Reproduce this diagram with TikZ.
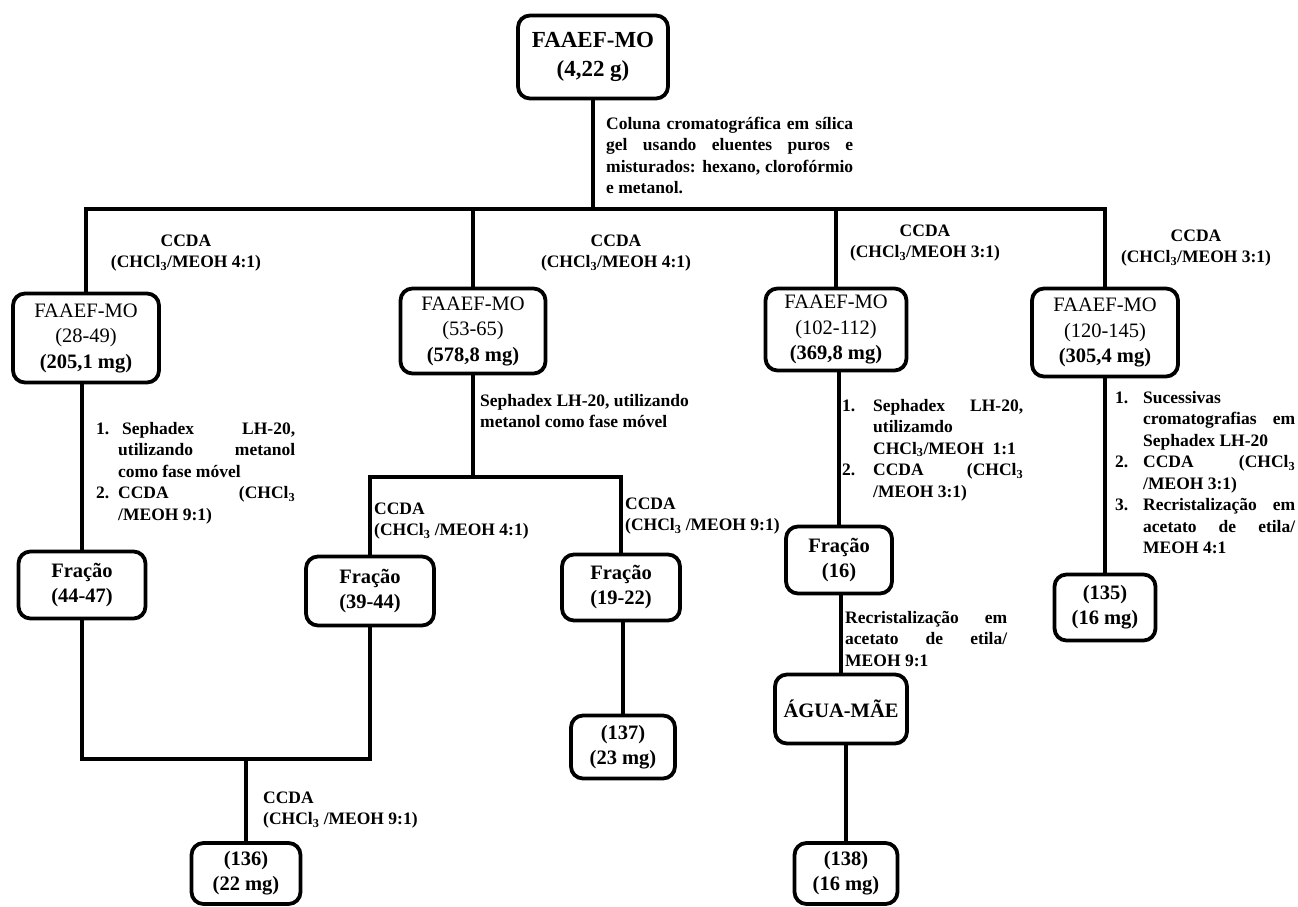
\documentclass[tikz,border=0pt]{standalone}
\usepackage{fontspec}
\setmainfont{Liberation Serif}
\newcommand\jl[2]{\makebox[#1][s]{#2}}
\newcommand\subs[1]{\textsubscript{#1}}
\newcommand\lblfont{\bfseries\fontsize{17.5}{21.5}\selectfont}
\newcommand\topfont{\bfseries\fontsize{23}{29}\selectfont}
\newcommand\boxfont{\fontsize{20.5}{25.5}\selectfont}
\newcommand\boxbfont{\bfseries\fontsize{20.5}{25}\selectfont}
\tikzset{
  box/.style={draw, line width=3.8pt, rounded corners=12pt, align=center, inner sep=0pt},
  conn/.style={line width=3.8pt},
  lbl/.style={inner sep=0pt, font=\lblfont},
}
\begin{document}
\begin{tikzpicture}[x=1pt,y=-1pt]
\useasboundingbox (0,0) rectangle (1298,907);
\fill[white] (0,0) rectangle (1298,907);

% boxes
\node[box, font=\topfont, minimum width=150pt, minimum height=83pt] (top) at (593,57) {FAAEF-MO\\(4,22 g)};
\node[box, font=\boxfont, minimum width=146pt, minimum height=89pt] (b1) at (86,338) {FAAEF-MO\\(28-49)\\\textbf{(205,1 mg)}};
\node[box, font=\boxfont, minimum width=145pt, minimum height=85pt] (b2) at (473,331) {FAAEF-MO\\(53-65)\\\textbf{(578,8 mg)}};
\node[box, font=\boxfont, minimum width=141pt, minimum height=82pt] (b3) at (836,329.5) {FAAEF-MO\\(102-112)\\\textbf{(369,8 mg)}};
\node[box, font=\boxfont, minimum width=146pt, minimum height=88pt] (b4) at (1105,332.5) {FAAEF-MO\\(120-145)\\\textbf{(305,4 mg)}};
\node[box, font=\boxbfont, minimum width=127pt, minimum height=67pt] (f1) at (82,585) {Fração\\(44-47)};
\node[box, font=\boxbfont, minimum width=128pt, minimum height=69pt] (f2) at (370,591) {Fração\\(39-44)};
\node[box, font=\boxbfont, minimum width=118pt, minimum height=66pt] (f3) at (621,587.5) {Fração\\(19-22)};
\node[box, font=\boxbfont, minimum width=106pt, minimum height=67pt] (f4) at (839,560) {Fração\\(16)};
\node[box, font=\boxbfont, minimum width=132pt, minimum height=69pt] (agua) at (841,709) {ÁGUA-MÃE};
\node[box, font=\boxbfont, minimum width=101pt, minimum height=66pt] (r135) at (1105,607.5) {(135)\\(16 mg)};
\node[box, font=\boxbfont, minimum width=104pt, minimum height=63pt] (r137) at (623,747) {(137)\\(23 mg)};
\node[box, font=\boxbfont, minimum width=109pt, minimum height=61pt] (r136) at (246,873.5) {(136)\\(22 mg)};
\node[box, font=\boxbfont, minimum width=103pt, minimum height=61pt] (r138) at (846,873.5) {(138)\\(16 mg)};

% connector levels
\coordinate (hl) at (0,209);
\coordinate (hm) at (0,477);
\coordinate (hb) at (0,759);

\draw[conn] (top.south) -- (top.south |- hl);
\draw[conn] (b1.north) -- (b1.north |- hl) -- (b4.north |- hl) -- (b4.north);
\draw[conn] (b2.north) -- (b2.north |- hl);
\draw[conn] (b3.north) -- (b3.north |- hl);

\draw[conn] (f1.north |- b1.south) -- (f1.north);
\draw[conn] (b2.south) -- (b2.south |- hm);
\draw[conn] (f2.north) -- (f2.north |- hm) -- (f3.north |- hm) -- (f3.north);
\draw[conn] (f1.south) -- (f1.south |- hb) -- (f2.south |- hb) -- (f2.south);
\draw[conn] (r136.north) -- (r136.north |- hb);
\draw[conn] (r137.north |- f3.south) -- (r137.north);
\draw[conn] (f4.north |- b3.south) -- (f4.north);
\draw[conn] (agua.north |- f4.south) -- (agua.north);
\draw[conn] (r138.north |- agua.south) -- (r138.north);
\draw[conn] (r135.north |- b4.south) -- (r135.north);

% labels
\node[lbl, anchor=north west, align=left] (l0) at (606,114) {\strut\jl{247pt}{Coluna cromatográfica em sílica}\\\jl{247pt}{gel usando eluentes puros e}\\\jl{247pt}{misturados: hexano, clorofórmio}\\e metanol.};

\node[lbl, anchor=north, align=center] (c1) at (186,231) {\strut CCDA\\(CHCl\subs{3}/MEOH 4:1)};
\node[lbl, anchor=north, align=center] (c2) at (616,231) {\strut CCDA\\(CHCl\subs{3}/MEOH 4:1)};
\node[lbl, anchor=north, align=center] (c3) at (925,221) {\strut CCDA\\(CHCl\subs{3}/MEOH 3:1)};
\node[lbl, anchor=north, align=center] (c4) at (1196,226) {\strut CCDA\\(CHCl\subs{3}/MEOH 3:1)};

\node[lbl, anchor=north west, align=left] (s2) at (480,391) {\strut Sephadex LH-20, utilizando\\metanol como fase móvel};

\node[lbl, anchor=north west, align=left] (s1) at (96,419) {\strut\makebox[22pt][l]{1.}\hspace*{4pt}\jl{173pt}{Sephadex LH-20,}\\\hspace*{22pt}\jl{177pt}{utilizando metanol}\\\hspace*{22pt}como fase móvel\\\makebox[22pt][l]{2.}\jl{177pt}{CCDA (CHCl\subs{3}}\\\hspace*{22pt}/MEOH 9:1)};

\node[lbl, anchor=north west, align=left] (cf2) at (374,499) {\strut CCDA\\(CHCl\subs{3} /MEOH 4:1)};
\node[lbl, anchor=north west, align=left] (cf3) at (625,494) {\strut CCDA\\(CHCl\subs{3} /MEOH 9:1)};
\node[lbl, anchor=north west, align=left] (c136) at (263,788) {\strut CCDA\\(CHCl\subs{3} /MEOH 9:1)};

\node[lbl, anchor=north west, align=left] (s3) at (842,396) {\strut\makebox[31pt][l]{1.}\jl{150pt}{Sephadex LH-20,}\\\hspace*{31pt}utilizamdo\\\hspace*{31pt}CHCl\subs{3}/MEOH\ \ 1:1\\\makebox[31pt][l]{2.}\jl{150pt}{CCDA (CHCl\subs{3}}\\\hspace*{31pt}/MEOH 3:1)};

\node[lbl, anchor=north west, align=left] (rc) at (845,608) {\strut\jl{162pt}{Recristalização em}\\\jl{162pt}{acetato de etila/}\\MEOH 9:1};

\node[lbl, anchor=north west, align=left] (s4) at (1115,388) {\strut\makebox[28pt][l]{1.}Sucessivas\\\hspace*{28pt}\jl{152pt}{cromatografias em}\\\hspace*{28pt}Sephadex LH-20\\\makebox[28pt][l]{2.}\jl{152pt}{CCDA (CHCl\subs{3}}\\\hspace*{28pt}/MEOH 3:1)\\\makebox[28pt][l]{3.}\jl{152pt}{Recristalização em}\\\hspace*{28pt}\jl{152pt}{acetato de etila/}\\\hspace*{28pt}MEOH 4:1};
\end{tikzpicture}
\end{document}
